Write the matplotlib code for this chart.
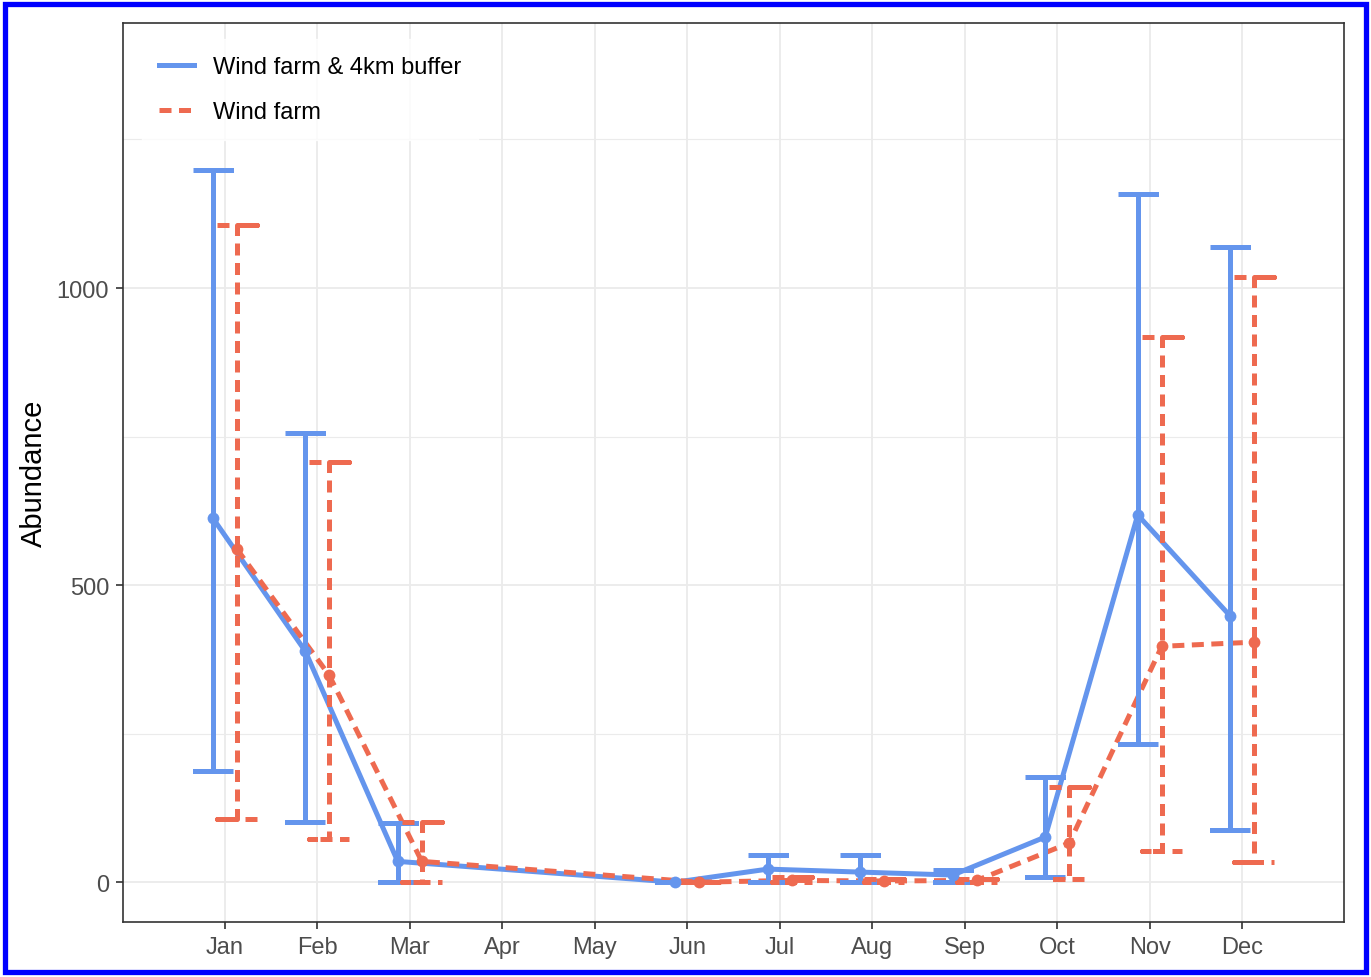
import matplotlib
matplotlib.use("Agg")
import matplotlib.pyplot as plt
from matplotlib.patches import Rectangle
from matplotlib.lines import Line2D
import numpy as np

plt.rcParams['font.family'] = ['Liberation Sans', 'DejaVu Sans']

months = ["Jan", "Feb", "Mar", "Apr", "May", "Jun", "Jul", "Aug", "Sep", "Oct", "Nov", "Dec"]
series_names = ["Wind farm & 4km buffer", "Wind farm"]

# months with data (Apr, May absent)
data_months = ["Jan", "Feb", "Mar", "Jun", "Jul", "Aug", "Sep", "Oct", "Nov", "Dec"]

buffer_mean = [613, 389, 35, 0, 22, 17, 12, 76, 618, 448]
buffer_low = [187, 101, 0, 0, 0, 0, 0, 8, 232, 88]
buffer_high = [1199, 756, 99, 0, 45, 45, 20, 177, 1158, 1069]

farm_mean = [561, 348, 35, 0, 3, 2, 3, 66, 397, 404]
farm_low = [106, 72, 0, 0, 0, 0, 0, 5, 52, 34]
farm_high = [1106, 707, 101, 0, 8, 6, 6, 160, 918, 1018]

colors = ["#6495ED", "#EE6A50"]

W, H = 1371, 978
dpi = 100
fig = plt.figure(figsize=(W / dpi, H / dpi), dpi=dpi)
ax = fig.add_axes([123 / W, 1 - 923 / H, (1344 - 123) / W, (923 - 24) / H])

xpos = {m: i + 1 for i, m in enumerate(months)}
dodge = 0.13
capw = 0.215
lw = 3.6
dash = (2.4, 1.5)

series = [
    (buffer_mean, buffer_low, buffer_high, -dodge, None),
    (farm_mean, farm_low, farm_high, dodge, dash),
]

for k, (mean, lo, hi, off, ds) in enumerate(series):
    xs = np.array([xpos[m] for m in data_months]) + off
    ln, = ax.plot(xs, mean, color=colors[k], lw=lw, zorder=3 + k * 0.1,
                  solid_capstyle='butt')
    if ds:
        ln.set_dashes(ds)
        ln.set_dash_capstyle('butt')
    for x, l, h in zip(xs, lo, hi):
        px = [x - capw, x + capw, x, x, x - capw, x + capw]
        py = [h, h, h, l, l, l]
        e, = ax.plot(px, py, color=colors[k], lw=lw, zorder=4 + k * 0.1,
                     solid_capstyle='butt', solid_joinstyle='miter')
        if ds:
            e.set_dashes(ds)
            e.set_dash_capstyle('butt')
    ax.plot(xs, mean, 'o', color=colors[k], ms=8.5, mew=0, zorder=5 + k * 0.1)

ax.set_xlim(-0.1, 13.1)
ax.set_ylim(-67, 1446)
ax.set_xticks(range(1, 13))
ax.set_xticklabels(months)
ax.set_yticks([0, 500, 1000])
ax.set_yticks([250, 750, 1250], minor=True)
ax.grid(which='major', color='#EBEBEB', lw=1.3, zorder=0)
ax.grid(which='minor', axis='y', color='#EBEBEB', lw=0.8, zorder=0)
ax.set_axisbelow(True)
for s in ax.spines.values():
    s.set_color('#333333')
    s.set_linewidth(1.2)
ax.tick_params(which='major', length=5, width=1.2, color='#333333',
               labelsize=17, labelcolor='#4D4D4D', pad=5)
ax.tick_params(which='minor', length=0)
ax.set_ylabel("Abundance", fontsize=21, labelpad=6)

h1 = Line2D([], [], color=colors[0], lw=lw)
h2 = Line2D([], [], color=colors[1], lw=lw)
h2.set_dashes(dash)
leg = ax.legend([h1, h2], series_names, loc='upper left',
                bbox_to_anchor=(0.006, 0.995), frameon=True, fontsize=17,
                handlelength=1.5, handletextpad=0.8, labelspacing=1.0,
                borderpad=0.7, fancybox=False)
leg.get_frame().set_edgecolor('white')
leg.get_frame().set_facecolor('white')
leg.set_zorder(10)

fig.patches.append(Rectangle((5 / W, 5 / H), 1 - 10 / W, 1 - 10 / H,
                             transform=fig.transFigure, fill=False,
                             edgecolor='#0000FF', lw=3.8, zorder=100))

fig.savefig("out.png", dpi=dpi)
